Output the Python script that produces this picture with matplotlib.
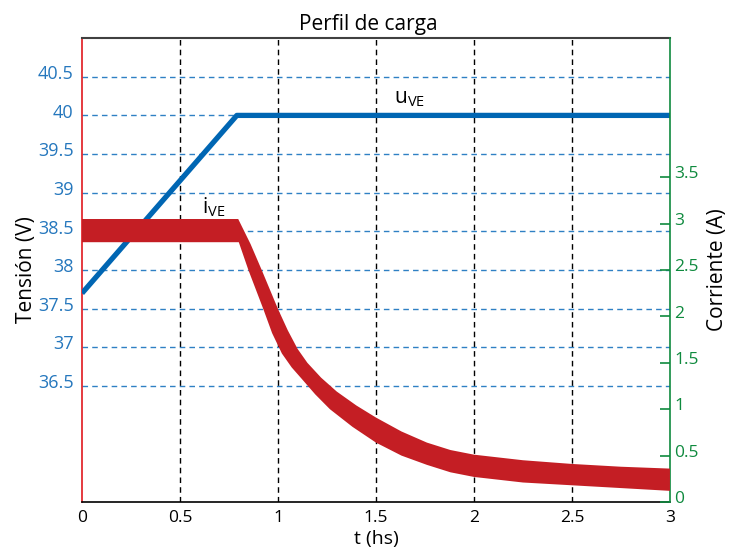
import numpy as np
import matplotlib
matplotlib.use("Agg")
import matplotlib.pyplot as plt
import matplotlib.transforms as mtransforms

plt.rcParams['font.family'] = ['Open Sans', 'DejaVu Sans']
plt.rcParams['mathtext.fontset'] = 'custom'
plt.rcParams['mathtext.rm'] = 'Open Sans'

# voltage profile (left axis)
t_v = [0.0, 0.79, 3.0]
u_ve = [37.7, 40.0, 40.0]

# current band (right axis): upper and lower edge
t_up = [0.0, 0.797, 0.86, 0.917, 1.0, 1.05, 1.1, 1.15, 1.22, 1.3, 1.4, 1.5, 1.63,
        1.76, 1.88, 2.0, 2.25, 2.5, 2.75, 3.0]
i_up = [3.05, 3.05, 2.78, 2.50, 2.08, 1.85, 1.65, 1.50, 1.34, 1.19, 1.04, 0.91,
        0.76, 0.64, 0.56, 0.51, 0.45, 0.41, 0.38, 0.36]
t_lo = [0.0, 0.80, 0.849, 0.925, 0.97, 1.02, 1.07, 1.12, 1.19, 1.265, 1.38, 1.5,
        1.63, 1.76, 1.88, 2.0, 2.25, 2.5, 2.75, 3.0]
i_lo = [2.80, 2.80, 2.50, 2.08, 1.82, 1.60, 1.45, 1.33, 1.16, 1.00, 0.81, 0.64,
        0.50, 0.40, 0.32, 0.27, 0.21, 0.18, 0.15, 0.12]

x_ticks = [0, 0.5, 1, 1.5, 2, 2.5, 3]
x_labels = ['0', '0.5', '1', '1.5', '2', '2.5', '3']
v_ticks = [36.5, 37, 37.5, 38, 38.5, 39, 39.5, 40, 40.5]
v_labels = ['36.5', '37', '37.5', '38', '38.5', '39', '39.5', '40', '40.5']
i_ticks = [0, 0.5, 1, 1.5, 2, 2.5, 3, 3.5]
i_labels = ['0', '0.5', '1', '1.5', '2', '2.5', '3', '3.5']

blue = '#0066b3'
red = '#c41e24'
green = '#0f8a3e'
tick_blue = '#2577bd'

fig = plt.figure(figsize=(7.29, 5.52), dpi=100)
ax = fig.add_axes([0.1125, 0.0906, 0.8065, 0.8404])
ax2 = ax.twinx()

ax.set_xlim(0, 3)
ax.set_ylim(35, 41)
ax2.set_ylim(0, 5)

# grid
for v in v_ticks:
    ax.axhline(v, color='#2f80c4', lw=1.0, ls=(0, (4, 3)), zorder=1)
for x in x_ticks[1:-1]:
    ax.axvline(x, color='black', lw=1.0, ls=(0, (4, 3)), zorder=1)

ax.plot(t_v, u_ve, color=blue, lw=3.8, solid_capstyle='butt', zorder=3)

ax2.fill(np.concatenate([t_up, t_lo[::-1]]), np.concatenate([i_up, i_lo[::-1]]),
         color=red, lw=0, zorder=3)

ax.text(1.673, 40.16, r'$\mathregular{u_{VE}}$', fontsize=15, ha='center', va='baseline')
ax.text(0.67, 38.73, r'$\mathregular{i_{VE}}$', fontsize=15, ha='center', va='baseline')

ax.set_xticks(x_ticks)
ax.set_xticklabels(x_labels)
ax.set_yticks(v_ticks)
ax.set_yticklabels(v_labels)
ax2.set_yticks(i_ticks)
ax2.set_yticklabels(i_labels)

ax.tick_params(axis='x', length=0, labelsize=12.5, pad=6, colors='black')
ax.tick_params(axis='y', length=0, labelsize=13, pad=6, labelcolor=tick_blue)
ax2.tick_params(axis='y', direction='in', length=7, width=1.2, color=green,
                labelcolor=green, labelsize=12.5, pad=3)

# labels sit a little above their tick in the original
shift = mtransforms.ScaledTranslation(0, 3.5 / 72, fig.dpi_scale_trans)
for lab in ax.get_yticklabels() + ax2.get_yticklabels():
    lab.set_transform(lab.get_transform() + shift)

for s in ax2.spines.values():
    s.set_visible(False)
ax2.spines['right'].set_visible(True)
ax2.spines['right'].set_color(green)
ax2.spines['right'].set_linewidth(1.2)
ax.spines['left'].set_color('#e0191f')
ax.spines['left'].set_linewidth(1.2)
ax.spines['right'].set_visible(False)
ax.spines['top'].set_color('#404040')
ax.spines['top'].set_linewidth(1.5)
ax.spines['bottom'].set_color('black')
ax.spines['bottom'].set_linewidth(1.2)

ax.set_title('Perfil de carga', fontsize=15, pad=6, x=0.487)
ax.set_xlabel('t (hs)', fontsize=14, labelpad=3)
ax.set_ylabel('Tensión (V)', fontsize=15, labelpad=1)
ax2.set_ylabel('Corriente (A)', fontsize=15, labelpad=6)

fig.savefig('out.png', dpi=100)
